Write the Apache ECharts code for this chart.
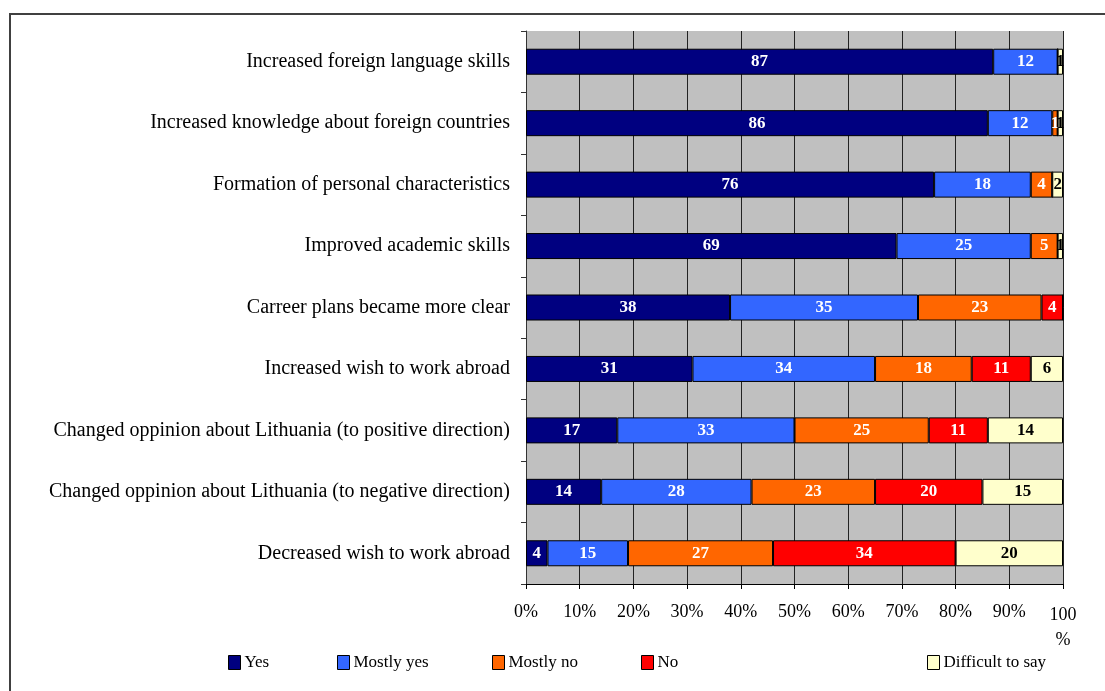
<!DOCTYPE html>
<html>
<head>
<meta charset="utf-8">
<script src="https://cdn.jsdelivr.net/npm/echarts@6/dist/echarts.min.js"></script>
<style>
  html, body { margin: 0; padding: 0; background: #ffffff; }
  #chart { width: 1105px; height: 691px; }
</style>
</head>
<body>
<div id="chart"></div>
<script>
// Survey items, listed top to bottom
const categories = [
  'Increased foreign language skills',
  'Increased knowledge about foreign countries',
  'Formation of personal characteristics',
  'Improved academic skills',
  'Carreer plans became more clear',
  'Increased wish to work abroad',
  'Changed oppinion about Lithuania (to positive direction)',
  'Changed oppinion about Lithuania (to negative direction)',
  'Decreased wish to work abroad'
];

// Share of answers (%) per item
const yes        = [87, 86, 76, 69, 38, 31, 17, 14, 4];
const mostlyYes  = [12, 12, 18, 25, 35, 34, 33, 28, 15];
const mostlyNo   = [0, 1, 4, 5, 23, 18, 25, 23, 27];
const no         = [0, 0, 0, 0, 4, 11, 11, 20, 34];
const difficult  = [1, 1, 2, 1, 0, 6, 14, 15, 20];

const seriesNames = ['Yes', 'Mostly yes', 'Mostly no', 'No', 'Difficult to say'];

const colors = ['#000080', '#3366FF', '#FF6600', '#FF0000', '#FFFFCC'];
const labelColors = ['#ffffff', '#ffffff', '#ffffff', '#ffffff', '#000000'];
const serif = '"Liberation Serif", "Times New Roman", serif';

const values = [yes, mostlyYes, mostlyNo, no, difficult];

const series = values.map((arr, i) => ({
  name: seriesNames[i],
  type: 'bar',
  stack: 'total',
  barWidth: 26,
  data: arr,
  itemStyle: { color: colors[i], borderColor: '#000000', borderWidth: 1 },
  label: {
    show: true,
    position: 'inside',
    color: labelColors[i],
    fontFamily: serif,
    fontWeight: 'bold',
    fontSize: 17,
    formatter: p => (p.value ? String(p.value) : '')
  },
  emphasis: { disabled: true }
}));

// Legend entries placed individually along the bottom row
const legendLeft = [223, 332, 487, 636, 922];
const legends = seriesNames.map((n, i) => ({
  data: [n],
  left: legendLeft[i],
  top: 649,
  icon: 'rect',
  itemWidth: 12,
  itemHeight: 14,
  itemGap: 0,
  itemStyle: { borderColor: '#000000', borderWidth: 1 },
  textStyle: { fontFamily: serif, fontSize: 17, color: '#000000', padding: [0, 0, 0, -1] },
  selectedMode: false
}));

const chart = echarts.init(document.getElementById('chart'), null, { renderer: 'canvas' });
chart.setOption({
  animation: false,
  backgroundColor: '#ffffff',
  color: colors,
  grid: {
    left: 526, right: 42, top: 31, bottom: 107,
    show: true, backgroundColor: '#C0C0C0', borderWidth: 0
  },
  legend: legends,
  xAxis: {
    type: 'value',
    min: 0, max: 100, interval: 10,
    axisLine: { show: true, lineStyle: { color: '#000000', width: 1 } },
    axisTick: { show: true, length: 5, lineStyle: { color: '#000000' } },
    splitLine: { show: true, lineStyle: { color: '#222222', width: 1 } },
    axisLabel: {
      margin: 19,
      fontFamily: serif, fontSize: 18, color: '#000000',
      formatter: v => (v === 100 ? '{a|100}\n{a|%}' : v + '%'),
      rich: { a: { fontFamily: serif, fontSize: 18, lineHeight: 25, color: '#000000' } }
    }
  },
  yAxis: {
    type: 'category',
    data: categories,
    inverse: true,
    axisLine: { show: true, lineStyle: { color: '#333333', width: 1 } },
    axisTick: { show: true, length: 5, lineStyle: { color: '#333333' } },
    axisLabel: { margin: 16, fontFamily: serif, fontSize: 20, color: '#000000' },
    splitLine: { show: false }
  },
  series: series,
  graphic: [
    { type: 'line', shape: { x1: 9, y1: 14, x2: 1105, y2: 14 }, style: { stroke: '#000000', lineWidth: 1.5 } },
    { type: 'line', shape: { x1: 10, y1: 14, x2: 10, y2: 691 }, style: { stroke: '#404040', lineWidth: 2 } }
  ]
});
</script>
</body>
</html>
